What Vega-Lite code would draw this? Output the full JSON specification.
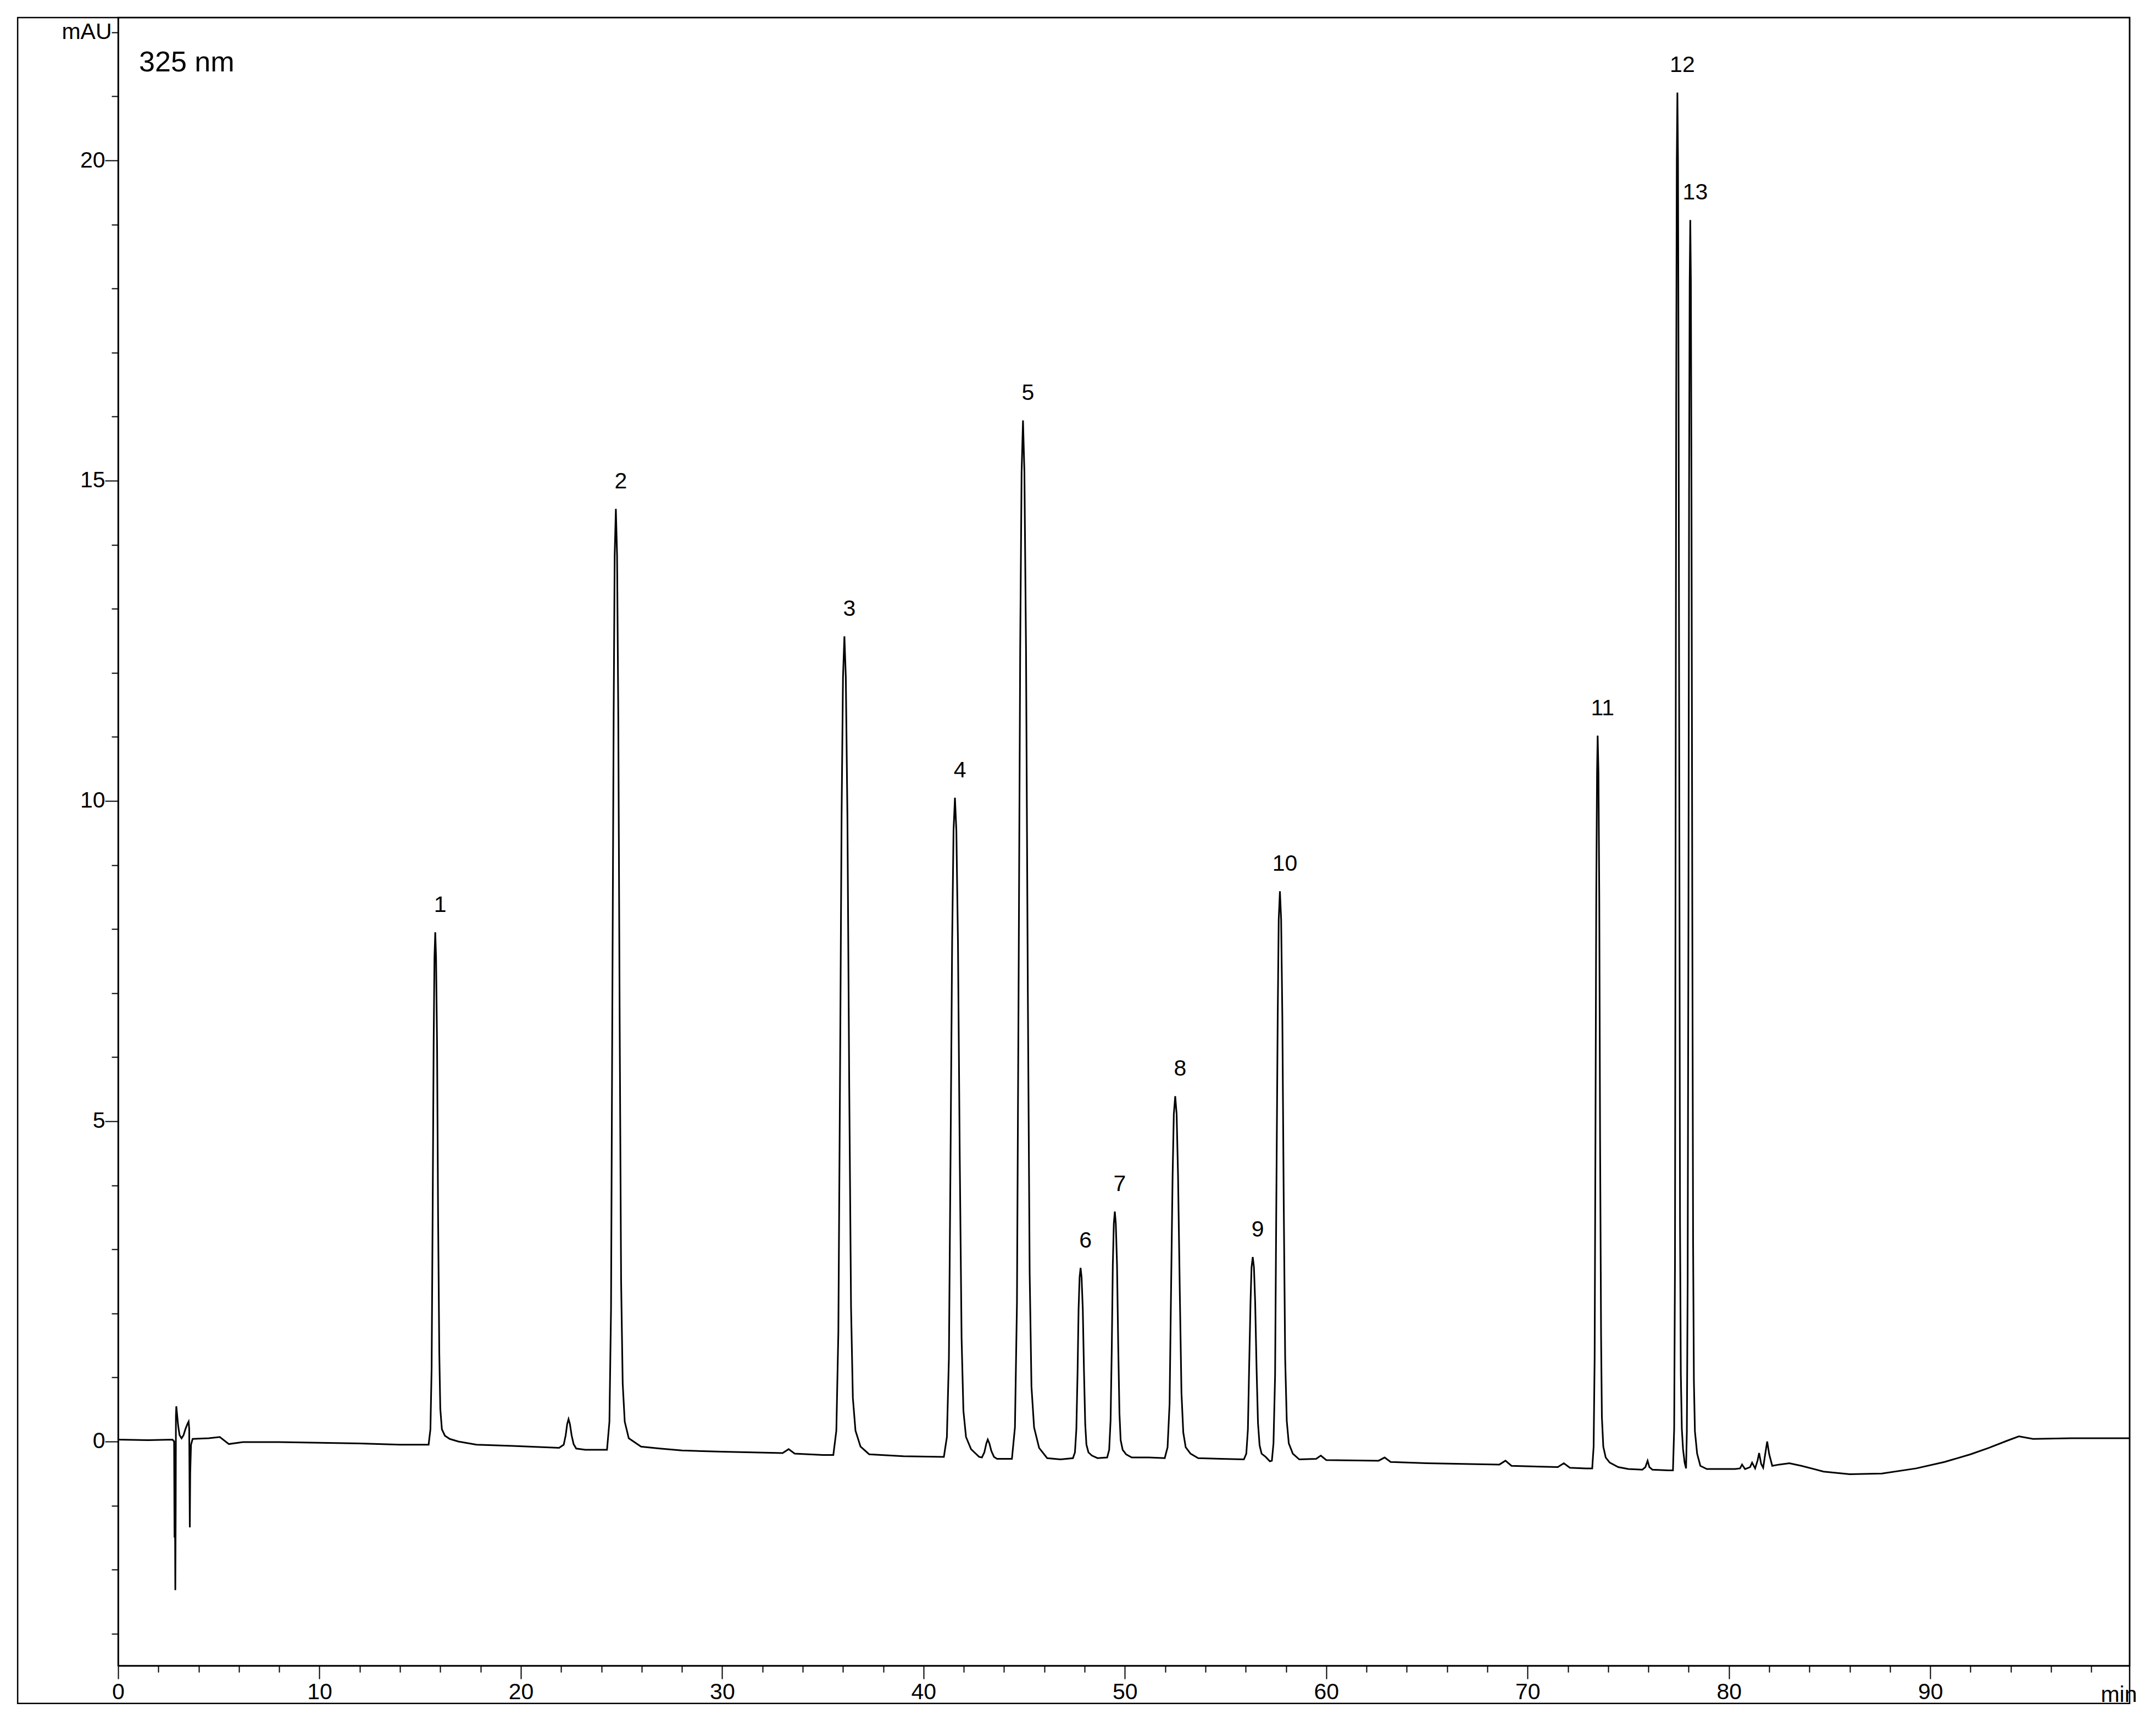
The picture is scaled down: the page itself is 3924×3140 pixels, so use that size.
{
"$schema": "https://vega.github.io/schema/vega-lite/v6.json",
"width": 3661,
"height": 3000,
"autosize": {"type": "none"},
"padding": {"left": 215, "top": 32, "right": 48, "bottom": 108},
"background": "white",
"config": {"view": {"stroke": "black", "strokeWidth": 2.5}, "font": "Liberation Sans"},
"datasets": {
"trace": [
{"t":0,"v":0.03},{"t":1.5,"v":0.02},{"t":2.7,"v":0.03},{"t":2.78,"v":0.0},{"t":2.8,"v":-1.5},{"t":2.82,"v":-0.8},{"t":2.84,"v":-2.32},{"t":2.86,"v":-1.0},{"t":2.87,"v":0.4},{"t":2.89,"v":0.55},{"t":2.92,"v":0.45},{"t":2.98,"v":0.25},{"t":3.05,"v":0.1},{"t":3.15,"v":0.05},{"t":3.25,"v":0.1},{"t":3.35,"v":0.2},{"t":3.45,"v":0.28},{"t":3.5,"v":0.31},{"t":3.53,"v":0.2},{"t":3.56,"v":-1.34},{"t":3.58,"v":-0.5},{"t":3.62,"v":-0.05},{"t":3.7,"v":0.04},{"t":4.5,"v":0.05},{"t":5.05,"v":0.07},{"t":5.5,"v":-0.04},{"t":6.2,"v":-0.01},{"t":8,"v":-0.01},{"t":10,"v":-0.02},{"t":12,"v":-0.03},{"t":14,"v":-0.05},
{"t":15.42,"v":-0.05},{"t":15.51,"v":0.19},{"t":15.57,"v":1.15},{"t":15.62,"v":3.55},{"t":15.67,"v":6.19},{"t":15.71,"v":7.55},{"t":15.75,"v":7.95},{"t":15.79,"v":7.55},{"t":15.84,"v":6.19},{"t":15.89,"v":3.55},{"t":15.95,"v":1.39},{"t":16.0,"v":0.51},{"t":16.08,"v":0.19},
{"t":16.23,"v":0.09},{"t":16.47,"v":0.04},{"t":16.9,"v":0.0},{"t":17.8,"v":-0.05},{"t":19.6,"v":-0.07},{"t":21.9,"v":-0.1},
{"t":22.13,"v":-0.05},{"t":22.23,"v":0.1},{"t":22.3,"v":0.27},{"t":22.37,"v":0.35},{"t":22.44,"v":0.27},{"t":22.52,"v":0.1},{"t":22.62,"v":-0.04},{"t":22.75,"v":-0.11},{"t":23.2,"v":-0.13},
{"t":24.28,"v":-0.13},{"t":24.4,"v":0.31},{"t":24.48,"v":2.07},{"t":24.54,"v":6.48},{"t":24.61,"v":11.33},{"t":24.66,"v":13.83},{"t":24.72,"v":14.56},{"t":24.78,"v":13.83},{"t":24.84,"v":11.33},{"t":24.91,"v":6.48},{"t":24.98,"v":2.51},{"t":25.06,"v":0.9},{"t":25.16,"v":0.31},
{"t":25.36,"v":0.05},{"t":25.97,"v":-0.08},{"t":26.9,"v":-0.11},{"t":28,"v":-0.14},{"t":30,"v":-0.16},{"t":33,"v":-0.18},{"t":33.3,"v":-0.12},{"t":33.6,"v":-0.19},{"t":35.0,"v":-0.21},
{"t":35.52,"v":-0.21},{"t":35.67,"v":0.17},{"t":35.77,"v":1.71},{"t":35.85,"v":5.54},{"t":35.93,"v":9.76},{"t":36.0,"v":11.93},{"t":36.07,"v":12.57},{"t":36.14,"v":11.93},{"t":36.22,"v":9.76},{"t":36.31,"v":5.54},{"t":36.4,"v":2.09},{"t":36.49,"v":0.68},{"t":36.62,"v":0.17},
{"t":36.87,"v":-0.08},{"t":37.3,"v":-0.2},{"t":39,"v":-0.23},
{"t":41.01,"v":-0.24},{"t":41.16,"v":0.07},{"t":41.26,"v":1.3},{"t":41.34,"v":4.39},{"t":41.42,"v":7.79},{"t":41.49,"v":9.54},{"t":41.56,"v":10.05},{"t":41.63,"v":9.54},{"t":41.71,"v":7.79},{"t":41.8,"v":4.39},{"t":41.89,"v":1.61},{"t":41.98,"v":0.48},{"t":42.11,"v":0.07},
{"t":42.36,"v":-0.12},{"t":42.76,"v":-0.24},
{"t":42.9,"v":-0.25},{"t":43.02,"v":-0.17},{"t":43.12,"v":-0.03},{"t":43.19,"v":0.03},{"t":43.27,"v":-0.03},{"t":43.37,"v":-0.15},{"t":43.5,"v":-0.24},{"t":43.65,"v":-0.27},
{"t":44.39,"v":-0.27},{"t":44.54,"v":0.22},{"t":44.64,"v":2.16},{"t":44.72,"v":7.02},{"t":44.8,"v":12.37},{"t":44.87,"v":15.13},{"t":44.94,"v":15.94},{"t":45.01,"v":15.13},{"t":45.09,"v":12.37},{"t":45.18,"v":7.02},{"t":45.27,"v":2.65},{"t":45.36,"v":0.86},{"t":45.49,"v":0.22},
{"t":45.74,"v":-0.1},{"t":46.14,"v":-0.26},{"t":46.8,"v":-0.28},
{"t":47.42,"v":-0.26},{"t":47.52,"v":-0.17},{"t":47.59,"v":0.19},{"t":47.65,"v":1.08},{"t":47.7,"v":2.06},{"t":47.75,"v":2.56},{"t":47.8,"v":2.71},{"t":47.85,"v":2.56},{"t":47.91,"v":2.06},{"t":47.97,"v":1.08},{"t":48.03,"v":0.27},{"t":48.09,"v":-0.05},{"t":48.19,"v":-0.17},{"t":48.36,"v":-0.22},{"t":48.64,"v":-0.26},
{"t":49.12,"v":-0.25},{"t":49.22,"v":-0.13},{"t":49.29,"v":0.33},{"t":49.35,"v":1.48},{"t":49.4,"v":2.75},{"t":49.45,"v":3.4},{"t":49.5,"v":3.59},{"t":49.55,"v":3.4},{"t":49.61,"v":2.75},{"t":49.67,"v":1.48},{"t":49.73,"v":0.44},{"t":49.79,"v":0.02},{"t":49.89,"v":-0.13},{"t":50.06,"v":-0.2},{"t":50.34,"v":-0.25},
{"t":51.2,"v":-0.25},
{"t":51.98,"v":-0.26},{"t":52.12,"v":-0.09},{"t":52.22,"v":0.59},{"t":52.29,"v":2.28},{"t":52.37,"v":4.15},{"t":52.43,"v":5.11},{"t":52.5,"v":5.39},{"t":52.57,"v":5.11},{"t":52.64,"v":4.15},{"t":52.73,"v":2.28},{"t":52.81,"v":0.76},{"t":52.9,"v":0.14},{"t":53.02,"v":-0.09},{"t":53.26,"v":-0.19},{"t":53.64,"v":-0.26},
{"t":54.8,"v":-0.27},
{"t":55.91,"v":-0.28},{"t":56.03,"v":-0.19},{"t":56.11,"v":0.19},{"t":56.17,"v":1.14},{"t":56.24,"v":2.18},{"t":56.29,"v":2.72},{"t":56.35,"v":2.88},{"t":56.41,"v":2.72},{"t":56.47,"v":2.18},{"t":56.54,"v":1.14},{"t":56.61,"v":0.29},{"t":56.69,"v":-0.06},{"t":56.79,"v":-0.19},{"t":56.99,"v":-0.24},{"t":57.2,"v":-0.31},
{"t":57.3,"v":-0.3},{"t":57.38,"v":-0.03},{"t":57.46,"v":1.03},{"t":57.52,"v":3.7},{"t":57.59,"v":6.63},{"t":57.64,"v":8.15},{"t":57.7,"v":8.59},{"t":57.76,"v":8.15},{"t":57.82,"v":6.63},{"t":57.89,"v":3.7},{"t":57.96,"v":1.3},{"t":58.04,"v":0.32},{"t":58.14,"v":-0.03},{"t":58.34,"v":-0.19},{"t":58.66,"v":-0.28},
{"t":59.5,"v":-0.27},{"t":59.73,"v":-0.22},{"t":60.0,"v":-0.29},{"t":62.6,"v":-0.3},{"t":62.9,"v":-0.25},{"t":63.2,"v":-0.32},{"t":65,"v":-0.34},{"t":68.6,"v":-0.36},{"t":68.9,"v":-0.3},{"t":69.2,"v":-0.38},{"t":71.5,"v":-0.4},{"t":71.8,"v":-0.34},{"t":72.1,"v":-0.41},{"t":72.9,"v":-0.42},
{"t":73.21,"v":-0.42},{"t":73.28,"v":-0.08},{"t":73.33,"v":1.3},{"t":73.37,"v":4.73},{"t":73.41,"v":8.5},{"t":73.45,"v":10.45},{"t":73.48,"v":11.02},{"t":73.52,"v":10.45},{"t":73.56,"v":8.5},{"t":73.6,"v":4.73},{"t":73.65,"v":1.64},{"t":73.69,"v":0.38},{"t":73.76,"v":-0.08},
{"t":73.88,"v":-0.25},{"t":74.08,"v":-0.33},{"t":74.5,"v":-0.4},{"t":75.0,"v":-0.43},{"t":75.7,"v":-0.44},{"t":75.85,"v":-0.4},{"t":75.96,"v":-0.3},{"t":76.05,"v":-0.4},{"t":76.2,"v":-0.44},{"t":77.0,"v":-0.45},
{"t":77.22,"v":-0.45},{"t":77.28,"v":0.2},{"t":77.32,"v":2.78},{"t":77.35,"v":9.23},{"t":77.38,"v":16.33},{"t":77.41,"v":19.98},{"t":77.44,"v":21.06},{"t":77.47,"v":19.98},{"t":77.5,"v":16.33},{"t":77.54,"v":9.23},{"t":77.57,"v":3.42},{"t":77.61,"v":1.06},{"t":77.66,"v":0.2},
{"t":77.72,"v":-0.12},{"t":77.8,"v":-0.33},{"t":77.87,"v":-0.42},
{"t":77.91,"v":0.16},{"t":77.95,"v":2.5},{"t":77.99,"v":8.35},{"t":78.02,"v":14.78},{"t":78.05,"v":18.1},{"t":78.08,"v":19.07},{"t":78.11,"v":18.1},{"t":78.14,"v":14.78},{"t":78.18,"v":8.35},{"t":78.22,"v":3.09},{"t":78.26,"v":0.94},{"t":78.31,"v":0.16},{"t":78.42,"v":-0.19},{"t":78.58,"v":-0.38},
{"t":78.9,"v":-0.43},{"t":80.3,"v":-0.43},{"t":80.55,"v":-0.42},{"t":80.65,"v":-0.36},{"t":80.8,"v":-0.43},{"t":81.05,"v":-0.4},{"t":81.15,"v":-0.33},{"t":81.3,"v":-0.42},{"t":81.42,"v":-0.3},{"t":81.5,"v":-0.18},{"t":81.6,"v":-0.35},{"t":81.7,"v":-0.41},{"t":81.8,"v":-0.2},{"t":81.9,"v":0.0},{"t":82.0,"v":-0.2},{"t":82.15,"v":-0.38},{"t":82.5,"v":-0.36},{"t":83.0,"v":-0.34},{"t":83.6,"v":-0.38},{"t":84.7,"v":-0.47},{"t":86.0,"v":-0.51},{"t":87.6,"v":-0.5},{"t":89.3,"v":-0.42},{"t":90.7,"v":-0.32},{"t":92.0,"v":-0.2},{"t":92.9,"v":-0.1},{"t":93.8,"v":0.01},{"t":94.4,"v":0.08},{"t":95.1,"v":0.04},{"t":97,"v":0.05},{"t":99.9,"v":0.05}
],
"peaks": [
{"n":"1","t":15.75,"h":7.95},{"n":"2","t":24.72,"h":14.56},{"n":"3","t":36.07,"h":12.57},{"n":"4","t":41.56,"h":10.05},{"n":"5","t":44.94,"h":15.94},{"n":"6","t":47.8,"h":2.71},{"n":"7","t":49.5,"h":3.59},{"n":"8","t":52.5,"h":5.39},{"n":"9","t":56.35,"h":2.88},{"n":"10","t":57.7,"h":8.59},{"n":"11","t":73.48,"h":11.02},{"n":"12","t":77.44,"h":21.06},{"n":"13","t":78.08,"h":19.07}
]
},
"layer": [
{
"data": {"name": "trace"},
"mark": {"type": "line", "stroke": "black", "strokeWidth": 3},
"encoding": {
"x": {"field": "t", "type": "quantitative",
"scale": {"domain": [0, 99.9], "nice": false, "zero": false},
"axis": {
"values": [0,2,4,6,8,10,12,14,16,18,20,22,24,26,28,30,32,34,36,38,40,42,44,46,48,50,52,54,56,58,60,62,64,66,68,70,72,74,76,78,80,82,84,86,88,90,92,94,96,98],
"format": "d",
"labelExpr": "datum.value % 10 === 0 ? datum.label : ''",
"tickSize": {"condition": {"test": "datum.value % 10 === 0", "value": 24}, "value": 12},
"tickWidth": 2, "tickColor": "black",
"domainColor": "black", "domainWidth": 2.5,
"labelFontSize": 41, "labelFont": "Liberation Sans", "labelColor": "black",
"labelPadding": 4, "labelOverlap": false, "labelFlush": false, "labelBound": false, "grid": false,
"title": "min", "titleFontSize": 41, "titleFont": "Liberation Sans", "titleFontWeight": "normal", "titleColor": "black",
"titleAlign": "right", "titleBaseline": "alphabetic", "titleX": 3674, "titleY": 65
}},
"y": {"field": "v", "type": "quantitative",
"scale": {"domain": [-3.5, 22.23], "nice": false, "zero": false},
"axis": {
"values": [-3,-2,-1,0,1,2,3,4,5,6,7,8,9,10,11,12,13,14,15,16,17,18,19,20,21,22],
"format": "d",
"labelExpr": "datum.value === 22 ? 'mAU' : (datum.value % 5 === 0 ? datum.label : '')",
"tickSize": {"condition": {"test": "datum.value % 5 === 0", "value": 24}, "value": 12},
"tickWidth": 2, "tickColor": "black",
"domainColor": "black", "domainWidth": 2.5,
"labelFontSize": 41, "labelFont": "Liberation Sans", "labelColor": "black",
"labelPadding": 0, "labelOverlap": false, "labelFlush": false, "labelBound": false, "grid": false,
"title": null
}}
}
},
{
"data": {"name": "peaks"},
"mark": {"type": "text", "dx": 9, "dy": -37, "fontSize": 41, "font": "Liberation Sans", "baseline": "alphabetic", "align": "center", "color": "black"},
"encoding": {
"x": {"field": "t", "type": "quantitative"},
"y": {"field": "h", "type": "quantitative"},
"text": {"field": "n"}
}
},
{
"data": {"values": [{}]},
"mark": {"type": "text", "align": "left", "baseline": "alphabetic", "fontSize": 52, "font": "Liberation Sans", "color": "black"},
"encoding": {
"x": {"datum": 1.04, "type": "quantitative"},
"y": {"datum": 21.39, "type": "quantitative"},
"text": {"value": "325 nm"}
}
},
{
"data": {"values": [{}]},
"mark": {"type": "rect", "filled": false, "stroke": "black", "strokeWidth": 2.5},
"encoding": {
"x": {"datum": -4.99, "type": "quantitative"},
"x2": {"datum": 99.9},
"y": {"datum": -4.09, "type": "quantitative"},
"y2": {"datum": 22.23}
}
}
]
}
